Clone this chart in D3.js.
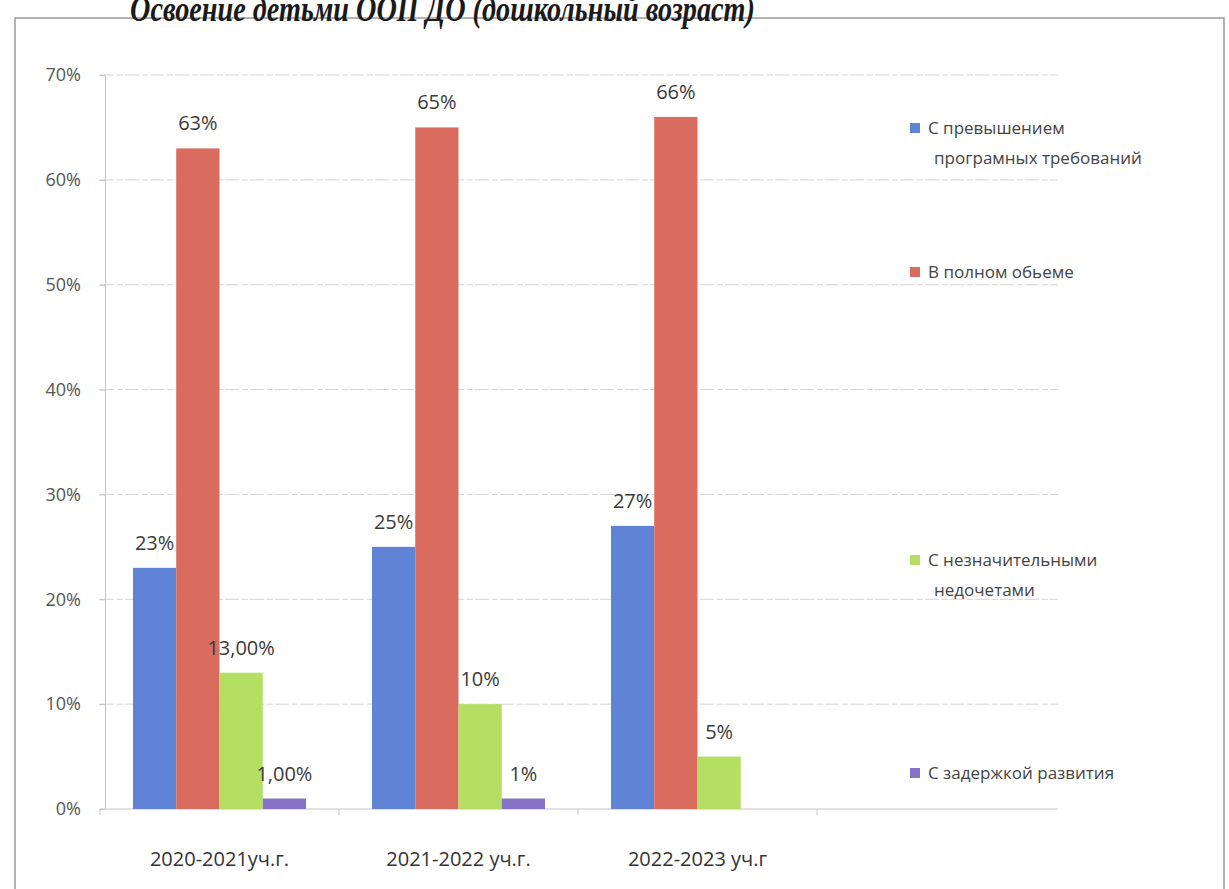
<!DOCTYPE html>
<html>
<head>
<meta charset="utf-8">
<script src="https://cdn.jsdelivr.net/npm/d3@7"></script>
<style>
  body { margin: 0; background: #fff; }
  svg { display: block; }
  text { font-family: "Open Sans", "DejaVu Sans", sans-serif; }
</style>
</head>
<body>
<svg id="chart" width="1229" height="889"></svg>
<script>
// data
var years = ["2020-2021уч.г.", "2021-2022 уч.г.", "2022-2023 уч.г"];
var seriesNames = [
  ["С превышением", "програмных требований"],
  ["В полном обьеме"],
  ["С незначительными", "недочетами"],
  ["С задержкой развития"]
];
var aboveProgram = [0.23, 0.25, 0.27];
var fullVolume   = [0.63, 0.65, 0.66];
var minorFlaws   = [0.13, 0.10, 0.05];
var delayed      = [0.01, 0.01, null];
var valueLabels = [
  ["23%", "25%", "27%"],
  ["63%", "65%", "66%"],
  ["13,00%", "10%", "5%"],
  ["1,00%", "1%", ""]
];
var yTicks = [0, 0.1, 0.2, 0.3, 0.4, 0.5, 0.6, 0.7];

var series = [aboveProgram, fullVolume, minorFlaws, delayed];
var colors = ["#5f84d6", "#d96b5f", "#b4df62", "#8672c6"];

var svg = d3.select("#chart"),
    plotLeft = 100, bandRight = 817, plotRight = 1058,
    plotTop = 75, plotBottom = 809;

// frame
svg.append("rect")
    .attr("x", 15).attr("y", 18)
    .attr("width", 1209).attr("height", 890)
    .attr("fill", "none")
    .attr("stroke", "#9a9a9a")
    .attr("stroke-width", 1.5);

// title (cut at top like the scan)
svg.append("text")
    .attr("x", 130)
    .attr("y", 21)
    .attr("textLength", 625)
    .attr("lengthAdjust", "spacingAndGlyphs")
    .style("font-family", "'Liberation Serif', 'DejaVu Serif', serif")
    .style("font-style", "italic")
    .style("font-weight", "bold")
    .style("font-size", "36px")
    .attr("fill", "#1a1a1a")
    .text("Освоение детьми ООП ДО (дошкольный возраст)");

var y = d3.scaleLinear().domain([0, 0.7]).range([plotBottom, plotTop]);

var x = d3.scaleBand()
    .domain(years)
    .range([plotLeft, bandRight])
    .paddingInner(0.276)
    .paddingOuter(0.138);

var xs = d3.scaleBand()
    .domain(d3.range(series.length))
    .range([0, x.bandwidth()]);

// gridlines
svg.append("g")
  .selectAll("line")
  .data(yTicks.filter(function(d) { return d > 0; }))
  .enter().append("line")
    .attr("x1", plotLeft).attr("x2", plotRight)
    .attr("y1", function(d) { return y(d); })
    .attr("y2", function(d) { return y(d); })
    .attr("stroke", "#d4d4d4")
    .attr("stroke-dasharray", "14,3,6,2");

// y axis
var yAxis = svg.append("g")
    .attr("transform", "translate(" + (plotLeft + 5) + ",0)")
    .call(d3.axisLeft(y).tickValues(yTicks).tickSize(6).tickPadding(18)
      .tickFormat(d3.format(".0%")));
yAxis.select(".domain").attr("stroke", "#c4c4c4");
yAxis.selectAll(".tick line").attr("stroke", "#c4c4c4");
yAxis.selectAll(".tick text")
    .style("font-size", "18px")
    .attr("fill", "#555");

// x axis baseline and band ticks
svg.append("line")
    .attr("x1", plotLeft).attr("x2", plotRight)
    .attr("y1", plotBottom).attr("y2", plotBottom)
    .attr("stroke", "#c4c4c4");

var edges = years.map(function(d) { return x(d) - x.step() * x.paddingInner() / 2; });
edges.push(bandRight);
svg.append("g")
  .selectAll("line")
  .data(edges)
  .enter().append("line")
    .attr("x1", function(d) { return d; })
    .attr("x2", function(d) { return d; })
    .attr("y1", plotBottom).attr("y2", plotBottom + 6)
    .attr("stroke", "#c4c4c4");

svg.append("g")
  .selectAll("text")
  .data(years)
  .enter().append("text")
    .attr("x", function(d) { return x(d) + x.bandwidth() / 2; })
    .attr("y", 866)
    .attr("text-anchor", "middle")
    .style("font-size", "20px")
    .attr("fill", "#333")
    .text(function(d) { return d; });

// bars
series.forEach(function(vals, si) {
  var pts = years.map(function(yr, i) { return {year: yr, v: vals[i], label: valueLabels[si][i]}; })
    .filter(function(d) { return d.v != null; });

  svg.append("g")
    .selectAll("rect")
    .data(pts)
    .enter().append("rect")
      .attr("x", function(d) { return x(d.year) + xs(si); })
      .attr("y", function(d) { return y(d.v); })
      .attr("width", xs.bandwidth())
      .attr("height", function(d) { return y(0) - y(d.v); })
      .attr("fill", colors[si]);

  svg.append("g")
    .selectAll("text")
    .data(pts)
    .enter().append("text")
      .attr("x", function(d) { return x(d.year) + xs(si) + xs.bandwidth() / 2; })
      .attr("y", function(d) { return y(d.v) - 18; })
      .attr("text-anchor", "middle")
      .style("font-size", "20px")
      .attr("fill", "#3a3a3a")
      .text(function(d) { return d.label; });
});

// legend
var legendY = [134, 278, 566, 779];
var leg = svg.append("g");
seriesNames.forEach(function(lines, i) {
  var g = leg.append("g").attr("transform", "translate(910," + legendY[i] + ")");
  g.append("rect")
      .attr("x", 0).attr("y", -11)
      .attr("width", 10).attr("height", 10)
      .attr("fill", colors[i]);
  var t = g.append("text")
      .attr("x", 18).attr("y", 0)
      .style("font-size", "17px")
      .attr("fill", "#444");
  lines.forEach(function(s, j) {
    t.append("tspan")
      .attr("x", j === 0 ? 18 : 24)
      .attr("dy", j === 0 ? 0 : 30)
      .text(s);
  });
});
</script>
</body>
</html>
